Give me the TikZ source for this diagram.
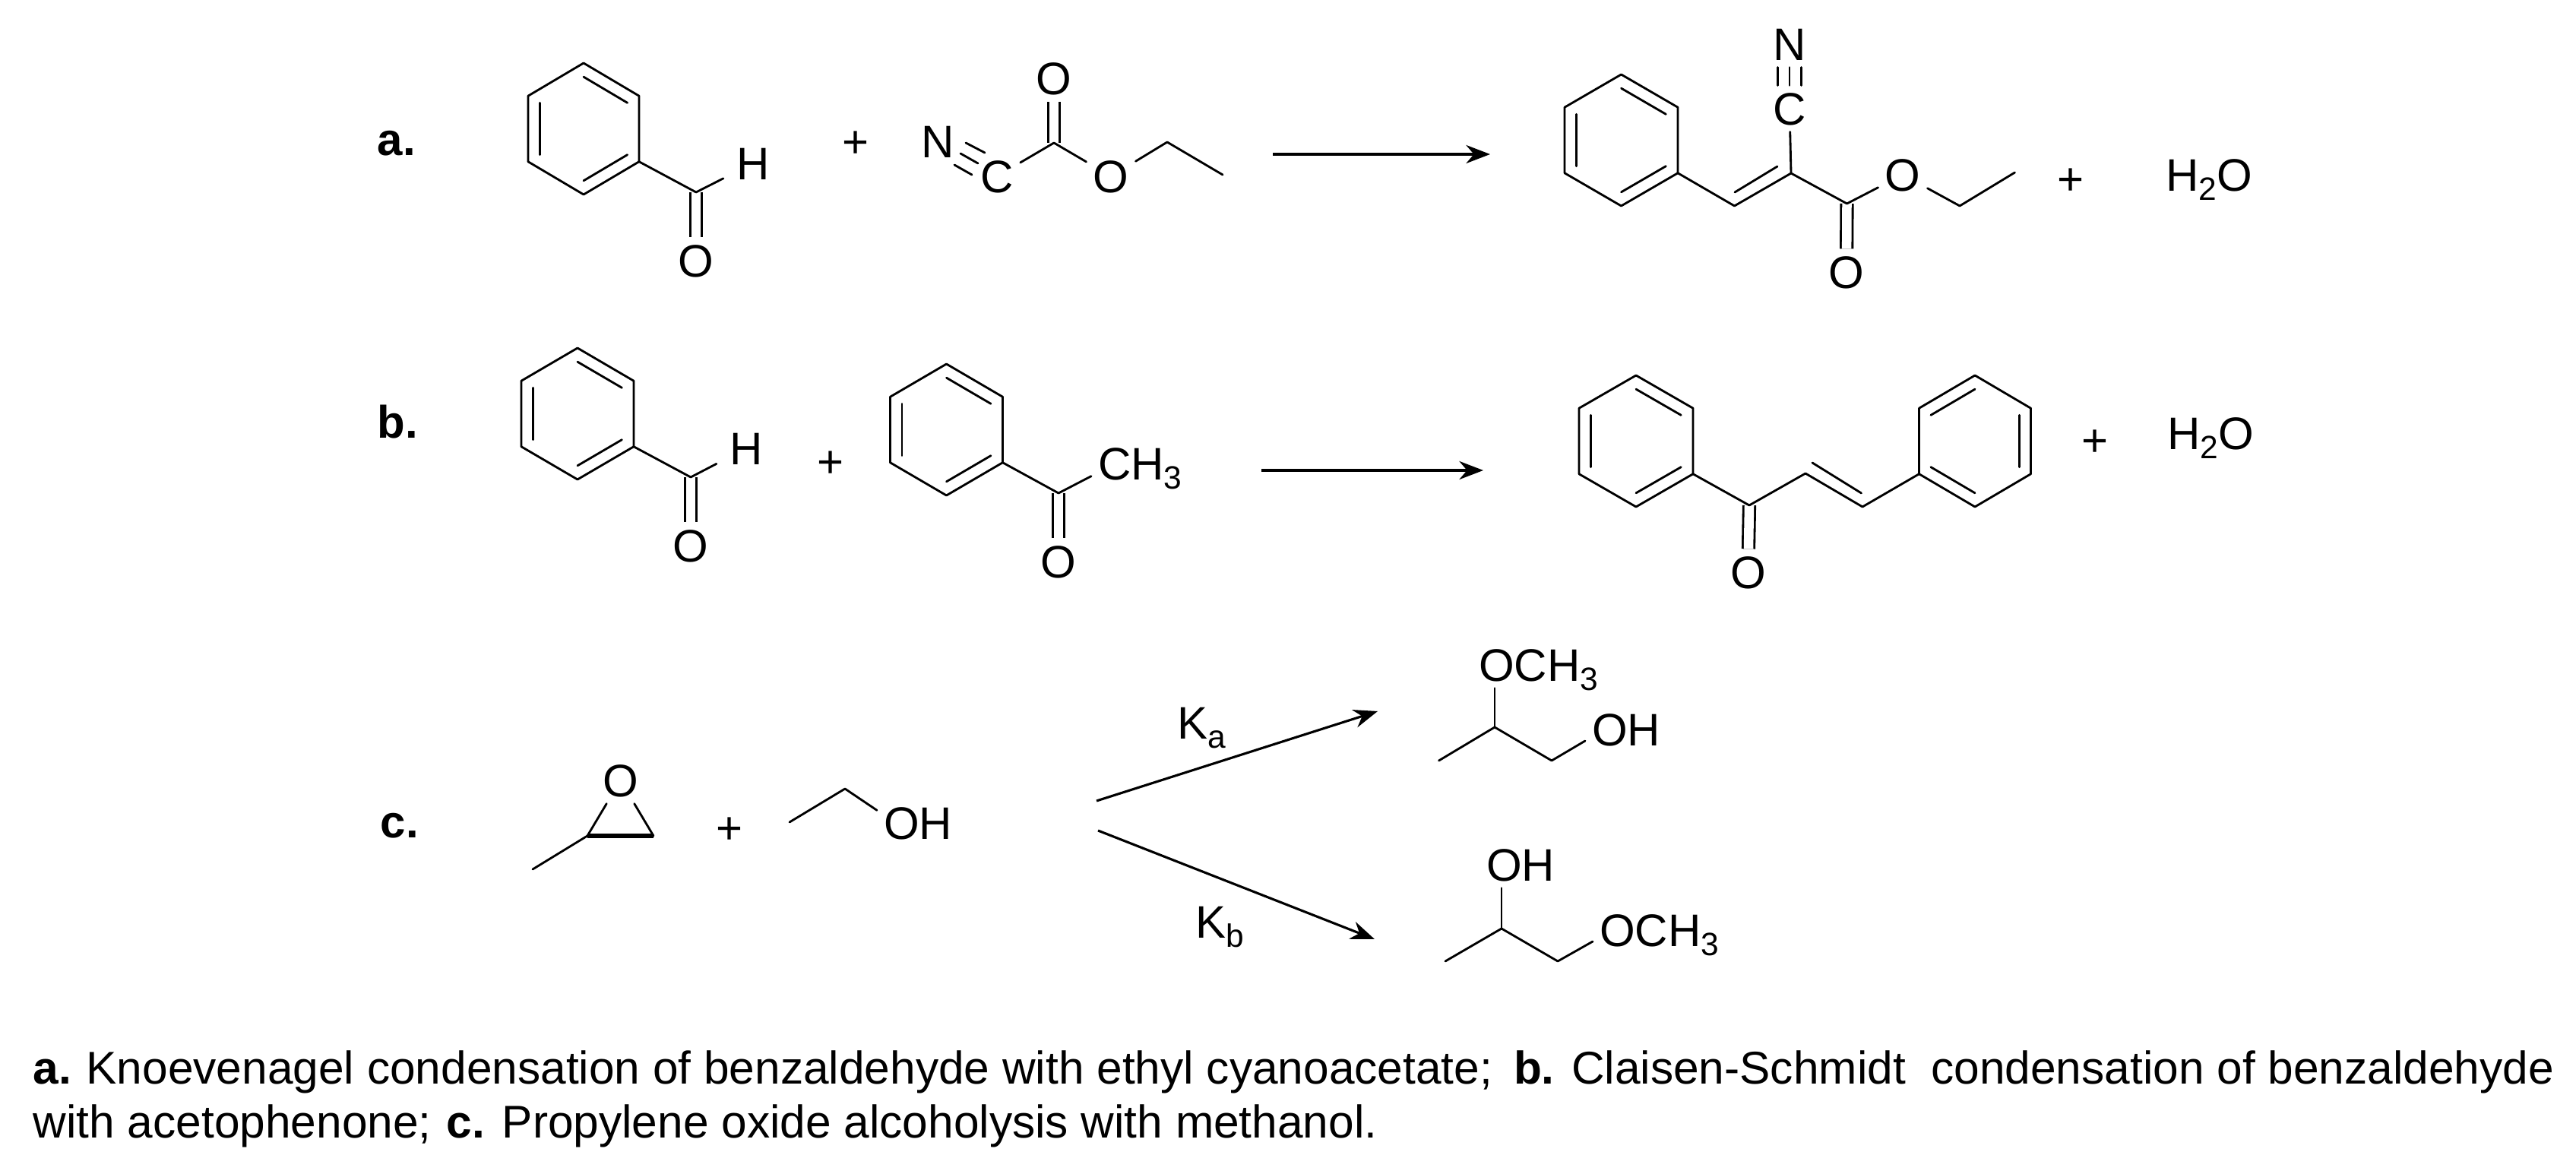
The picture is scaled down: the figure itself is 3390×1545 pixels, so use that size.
\documentclass[tikz,border=0pt]{standalone}
\usepackage{fontspec}
\setmainfont{Liberation Sans}
\usetikzlibrary{arrows.meta,calc}
\newcommand\sbs[1]{\raisebox{-.2em}{\fontsize{10.2}{10.2}\selectfont #1}}
\tikzset{
  bond/.style={line width=.68pt,line cap=round,line join=round,black},
  dbl/.style={line width=.68pt,double,double distance=3pt,black},
  bolder/.style={line width=1.25pt,black},
  atom/.style={font=\fontsize{14.4}{14.4}\selectfont,inner sep=2pt,text height=10.3pt,text depth=0pt},
  hatom/.style={atom,inner sep=4pt},
  plain/.style={atom,inner sep=0pt},
  sgn/.style={font=\fontsize{14.4}{14.4}\selectfont,inner sep=0pt,text height=10.3pt,text depth=0pt},
  tag/.style={font=\fontsize{14.4}{14.4}\selectfont\bfseries,inner sep=0pt,anchor=base west},
  captext/.style={font=\fontsize{14.5}{14.5}\selectfont,inner sep=0pt,anchor=base west},
  rxn/.style={line width=.75pt,black,-{Stealth[length=7.6pt,width=5.8pt]}}
}
% ring: id, cx, cy, half width (negative mirrors), half height
\newcommand\benzring[5]{%
  \coordinate (#1c) at (#2,#3);
  \coordinate (#1T) at (#2,#3-#5);
  \coordinate (#1B) at (#2,#3+#5);
  \coordinate (#1UR) at (#2+#4,#3-#5/2);
  \coordinate (#1LR) at (#2+#4,#3+#5/2);
  \coordinate (#1UL) at (#2-#4,#3-#5/2);
  \coordinate (#1LL) at (#2-#4,#3+#5/2);
  \draw[bond] (#1T)--(#1UR)--(#1LR)--(#1B)--(#1LL)--(#1UL)--cycle;
  \draw[bond] ($(#1c)!.79!(#1T)$)--($(#1c)!.79!(#1UR)$);
  \draw[bond] ($(#1c)!.79!(#1LR)$)--($(#1c)!.79!(#1B)$);
  \draw[bond] ($(#1c)!.79!(#1UL)$)--($(#1c)!.79!(#1LL)$);
}
\begin{document}
\begin{tikzpicture}[x=.24pt,y=-.24pt]
\useasboundingbox[fill=white] (0,0) rectangle (3390,1545);
% ---- row a
\node[tag] (la) at (496,205) {a.};
\benzring{aA}{768}{169.5}{73}{86.5}
\coordinate (aCO) at (916,253);
\node[hatom] (aH) at (991,215) {H};
\node[atom] (aO) at (916,343) {O};
\draw[dbl] (aCO)--(aO.north);
\draw[bond] (aALR)--(aCO)--(aH);
\node[sgn] (ap1) at (1126,186) {+};
\node[atom] (aN2) at (1234,186) {N};
\node[atom] (aC2) at (1312,232) {C};
\coordinate (aC3) at (1387,188);
\node[atom] (aO3) at (1387,103) {O};
\node[atom] (aO4) at (1462,232) {O};
\coordinate (aC5) at (1536,187);
\coordinate (aC6) at (1609,230);
\draw[dbl] (aC3)--(aO3);
\draw[bond] (1271,188)--(1296,201) (1264,202)--(1287,215) (1256,217)--(1279,230);
\draw[bond] (aC2)--(aC3)--(aO4)--(aC5)--(aC6);
\coordinate (ars) at (1675,203);
\coordinate (are) at (1961,203);
\draw[rxn] (ars)--(are);
\benzring{aP}{2133.5}{184.5}{74.5}{86.5}
\coordinate (pCH) at (2282.5,271);
\coordinate (pC) at (2357,228);
\coordinate (pCO) at (2430.5,268);
\coordinate (pC7) at (2579,271);
\coordinate (pC8) at (2651.5,227);
\node[atom] (pCn) at (2355,143) {C};
\node[atom] (pN) at (2355,58) {N};
\node[atom] (pO) at (2504,230) {O};
\node[atom] (pOd) at (2430,358) {O};
\draw[dbl] (pCO)--(pOd);
\draw[bond] (aPLR)--(pCH)--(pC)--(pCO)--(pO)--(pC7)--(pC8);
\draw[bond] (2283,253)--(2339,219);
\draw[bond] (pC)--(pCn);
\draw[bond] (pN.south)--(pCn.north);
\draw[bond] ([xshift=-3.7pt]pN.south)--([xshift=-3.7pt]pCn.north);
\draw[bond] ([xshift=3.7pt]pN.south)--([xshift=3.7pt]pCn.north);
\node[sgn] (ap2) at (2725,235) {+};
\node[plain] (aw) at (2907,230) {H\sbs{2}O};
% ---- row b
\node[tag] (lb) at (496,577) {b.};
\benzring{bA}{760}{544.5}{74}{86.5}
\coordinate (bCO) at (909,628);
\node[hatom] (bH) at (982,590) {H};
\node[atom] (bO) at (909,718) {O};
\draw[dbl] (bCO)--(bO.north);
\draw[bond] (bALR)--(bCO)--(bH);
\node[sgn] (bp1) at (1093,607) {+};
\benzring{bB}{1245.5}{565.5}{74}{86.5}
\coordinate (bCO2) at (1393,649);
\node[atom,anchor=west] (bMe) at (1436,610) {CH\sbs{3}};
\node[atom] (bO2) at (1393,739) {O};
\draw[dbl] (bCO2)--(bO2.north);
\draw[bond] (bBLR)--(bCO2)--([yshift=-4pt]bMe.west);
\coordinate (brs) at (1660,619);
\coordinate (bre) at (1952,619);
\draw[rxn] (brs)--(bre);
\benzring{bC}{2153}{580.5}{75}{86.5}
\benzring{bD}{2599}{580.5}{-73.5}{86.5}
\coordinate (qCO) at (2302,665);
\coordinate (qC1) at (2376,623);
\coordinate (qC2) at (2451,667);
\node[atom] (qO) at (2301,753) {O};
\draw[dbl] (qCO)--(qO.north);
\draw[bond] (bCLR)--(qCO)--(qC1)--(qC2)--(bDLR);
\draw[bond] (2385,609)--(2449.5,649);
\node[sgn] (bp2) at (2757,579) {+};
\node[plain] (bw) at (2909,570) {H\sbs{2}O};
% ---- row c
\node[tag] (lc) at (500,1103) {c.};
\node[atom] (eO) at (816.5,1027) {O};
\coordinate (eL) at (773,1100);
\coordinate (eR) at (860,1100);
\coordinate (eM) at (701,1144);
\draw[bond] (eL)--(eO)--(eR);
\draw[bolder] (eL)--(eR);
\draw[bond] (eM)--(eL);
\node[sgn] (cp1) at (960,1089) {+};
\coordinate (mA) at (1039,1082);
\coordinate (mB) at (1112,1038);
\node[atom,anchor=west] (mOH) at (1154,1083) {OH};
\draw[bond] (mA)--(mB)--([yshift=4pt]mOH.west);
\coordinate (c0u) at (1443,1054);
\coordinate (c1u) at (1813,936);
\coordinate (c0d) at (1445,1093);
\coordinate (c1d) at (1809,1236);
\draw[rxn] (c0u)--(c1u);
\draw[rxn] (c0d)--(c1d);
\node[plain,anchor=west] (ka) at (1549,951) {K\sbs{a}};
\node[plain,anchor=west] (kb) at (1573,1213) {K\sbs{b}};
\coordinate (u1) at (1893.5,1001);
\coordinate (u2) at (1967,957);
\coordinate (u3) at (2042,1001);
\node[atom,anchor=west] (uT) at (1937,875) {OCH\sbs{3}};
\node[atom,anchor=west] (uR) at (2086,960) {OH};
\draw[bond] (u1)--(u2)--(u3)--([yshift=-3.6pt]uR.west);
\draw[bond] (u2)--(u2 |- uT.south);
\coordinate (v1) at (1902,1265);
\coordinate (v2) at (1976,1222);
\coordinate (v3) at (2050,1265);
\node[atom,anchor=west] (vT) at (1947,1138) {OH};
\node[atom,anchor=west] (vR) at (2096,1224) {OCH\sbs{3}};
\draw[bond] (v1)--(v2)--(v3)--([yshift=-3.6pt]vR.west);
\draw[bond] (v2)--(v2 |- vT.south);
% ---- caption
\node[captext] (cap1) at (43,1426) {\textbf{a.}\kern-.7pt{} Knoevenagel condensation of benzaldehyde with ethyl cyanoacetate;\kern2.6pt{} \textbf{b.} Claisen-Schmidt\ \ condensation of benzaldehyde};
\node[captext] (cap2) at (43,1497) {with acetophenone;\kern.8pt{} \textbf{c.} Propylene oxide alcoholysis with methanol.};
\end{tikzpicture}
\end{document}
